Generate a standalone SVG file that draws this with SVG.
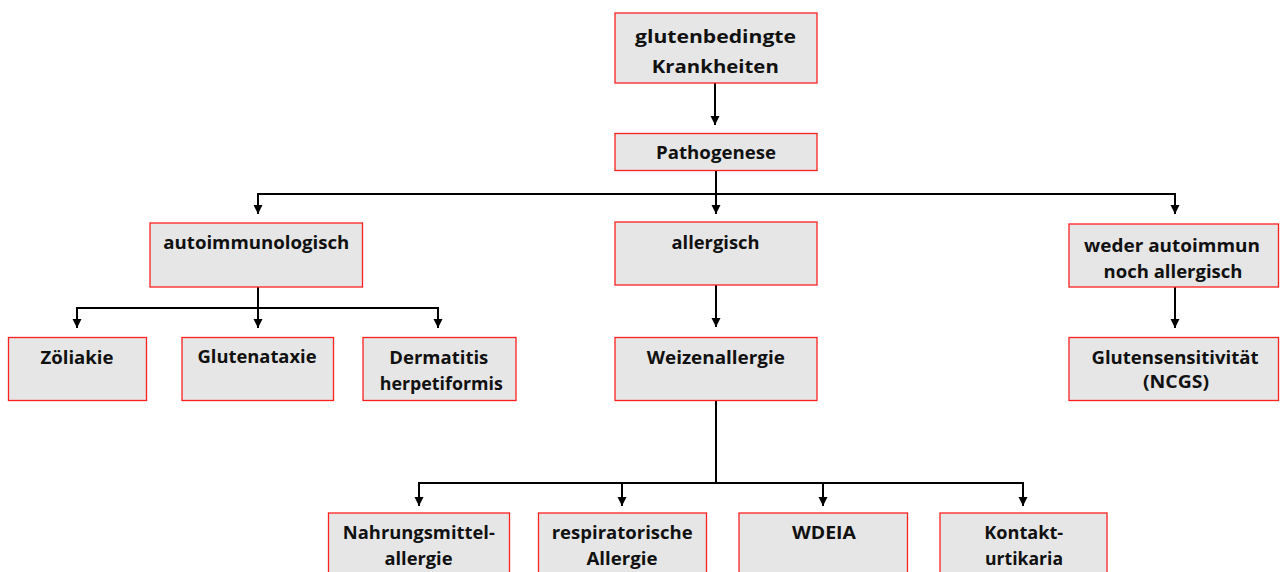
<svg xmlns="http://www.w3.org/2000/svg" width="1281" height="572" viewBox="0 0 1281 572">
<style>
.box{fill:#e6e6e6;stroke:#ff2020;stroke-width:1.3}
.t{font-family:"Open Sans","Liberation Sans",sans-serif;font-weight:700;font-size:18.5px;fill:#111;text-anchor:middle}
.c{fill:none;stroke:#000;stroke-width:2}
</style>
<defs>
<marker id="ah" markerUnits="userSpaceOnUse" markerWidth="10" markerHeight="10" refX="9" refY="4.5" orient="auto">
<path d="M0,0 L9,4.5 L0,9 z" fill="#000"/>
</marker>
</defs>
<rect width="1281" height="572" fill="#fff"/>
<g id="connectors">
<path class="c" d="M715,83 V125" marker-end="url(#ah)"/>
<path class="c" d="M716,171 V194 M258,194 H1175"/>
<path class="c" d="M258,193 V214" marker-end="url(#ah)"/>
<path class="c" d="M716,193 V214" marker-end="url(#ah)"/>
<path class="c" d="M1175,193 V214" marker-end="url(#ah)"/>
<path class="c" d="M258,287 V308 M77,308 H438"/>
<path class="c" d="M77,307 V328" marker-end="url(#ah)"/>
<path class="c" d="M258,307 V328" marker-end="url(#ah)"/>
<path class="c" d="M438,307 V328" marker-end="url(#ah)"/>
<path class="c" d="M716,285 V327" marker-end="url(#ah)"/>
<path class="c" d="M1175,287 V328" marker-end="url(#ah)"/>
<path class="c" d="M716,401 V483 M419,483 H1023"/>
<path class="c" d="M419,482 V506" marker-end="url(#ah)"/>
<path class="c" d="M622,482 V506" marker-end="url(#ah)"/>
<path class="c" d="M823,482 V506" marker-end="url(#ah)"/>
<path class="c" d="M1023,482 V506" marker-end="url(#ah)"/>
</g>
<g id="n-gluten">
<rect class="box" x="615" y="13" width="202" height="70"/>
<text class="t" x="715.5" y="43" textLength="161" lengthAdjust="spacingAndGlyphs">glutenbedingte</text>
<text class="t" x="715.3" y="73" textLength="127" lengthAdjust="spacingAndGlyphs">Krankheiten</text>
</g>
<g id="n-patho">
<rect class="box" x="615" y="133.5" width="202" height="37"/>
<text class="t" x="716" y="159" textLength="120" lengthAdjust="spacingAndGlyphs">Pathogenese</text>
</g>
<g id="n-autoimmun">
<rect class="box" x="150" y="223" width="212.5" height="64"/>
<text class="t" x="256.3" y="249" textLength="186" lengthAdjust="spacingAndGlyphs">autoimmunologisch</text>
</g>
<g id="n-allergisch">
<rect class="box" x="615" y="222" width="202" height="63"/>
<text class="t" x="715.5" y="249" textLength="88" lengthAdjust="spacingAndGlyphs">allergisch</text>
</g>
<g id="n-weder">
<rect class="box" x="1069" y="224" width="209.5" height="63"/>
<text class="t" x="1172" y="252" textLength="176" lengthAdjust="spacingAndGlyphs">weder autoimmun</text>
<text class="t" x="1173" y="278" textLength="139" lengthAdjust="spacingAndGlyphs">noch allergisch</text>
</g>
<g id="n-zoeliakie">
<rect class="box" x="8.5" y="337.5" width="138" height="63"/>
<text class="t" x="77" y="364" textLength="73" lengthAdjust="spacingAndGlyphs">Zöliakie</text>
</g>
<g id="n-glutenataxie">
<rect class="box" x="182" y="337.5" width="151.5" height="63"/>
<text class="t" x="257" y="363" textLength="119" lengthAdjust="spacingAndGlyphs">Glutenataxie</text>
</g>
<g id="n-dermatitis">
<rect class="box" x="363" y="337.5" width="153" height="63"/>
<text class="t" x="438.8" y="364" textLength="99" lengthAdjust="spacingAndGlyphs">Dermatitis</text>
<text class="t" x="441.3" y="390" textLength="123" lengthAdjust="spacingAndGlyphs">herpetiformis</text>
</g>
<g id="n-weizen">
<rect class="box" x="615" y="337.5" width="202" height="63"/>
<text class="t" x="715.8" y="364" textLength="138" lengthAdjust="spacingAndGlyphs">Weizenallergie</text>
</g>
<g id="n-ncgs">
<rect class="box" x="1069" y="337.5" width="209.5" height="63"/>
<text class="t" x="1175" y="364" textLength="167" lengthAdjust="spacingAndGlyphs">Glutensensitivität</text>
<text class="t" x="1176" y="388" textLength="66" lengthAdjust="spacingAndGlyphs">(NCGS)</text>
</g>
<g id="n-nahrung">
<rect class="box" x="328.5" y="513" width="181" height="70"/>
<text class="t" x="418.8" y="539" textLength="152" lengthAdjust="spacingAndGlyphs">Nahrungsmittel-</text>
<text class="t" x="418.5" y="565" textLength="68" lengthAdjust="spacingAndGlyphs">allergie</text>
</g>
<g id="n-resp">
<rect class="box" x="538.5" y="513" width="168" height="70"/>
<text class="t" x="622.2" y="539" textLength="141" lengthAdjust="spacingAndGlyphs">respiratorische</text>
<text class="t" x="622" y="565" textLength="71" lengthAdjust="spacingAndGlyphs">Allergie</text>
</g>
<g id="n-wdeia">
<rect class="box" x="739" y="513" width="168.5" height="70"/>
<text class="t" x="824" y="539" textLength="64" lengthAdjust="spacingAndGlyphs">WDEIA</text>
</g>
<g id="n-kontakt">
<rect class="box" x="940" y="513" width="167" height="70"/>
<text class="t" x="1023.7" y="539" textLength="79" lengthAdjust="spacingAndGlyphs">Kontakt-</text>
<text class="t" x="1024" y="565" textLength="78" lengthAdjust="spacingAndGlyphs">urtikaria</text>
</g>
</svg>
